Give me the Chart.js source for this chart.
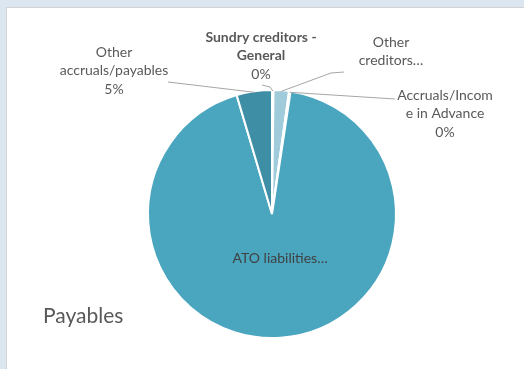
<!DOCTYPE html>
<html>
<head>
<meta charset="utf-8">
<script src="https://cdn.jsdelivr.net/npm/chart.js@4/dist/chart.umd.min.js"></script>
<style>
    html, body { margin: 0; padding: 0; }
    body { width: 524px; height: 369px; background: #dce6f0; position: relative; overflow: hidden; }
    #panel { position: absolute; left: 6px; top: 7px; right: 0; bottom: 0; background: #fff; border-left: 1px solid #d3d3d3; border-top: 1px solid #d3d3d3; }
    #graph { position: absolute; left: 0; top: 0; }
</style>
</head>
<body>
<div id="panel"></div>
<canvas id="graph" width="524" height="369"></canvas>
<script>
// データ
var categories = ['Sundry creditors - General', 'Other creditors', 'Accruals/Income in Advance', 'ATO liabilities', 'Other accruals/payables'];
var values     = [0.2, 2.0, 0.2, 93.0, 4.6];
var colors     = ['#5fb3c9', '#a0cbdb', '#e6f2f6', '#4aa5bf', '#3e8ea5'];
// 表示用ラベル（グラフ上の文字）
var labelLines = [
    ['Sundry creditors -', 'General'],
    ['Other', 'creditors…'],
    ['Accruals/Incom', 'e in Advance'],
    ['ATO liabilities…'],
    ['Other', 'accruals/payables']
];
var showPercent = [true, false, true, false, true];
var boldName    = [true, false, false, false, false];

var FONT = 'Lato, "Liberation Sans", sans-serif';

// ラベル位置（文字の中心x, 1行目のy）と引き出し線の始点
var labelLayout = [
    { x: 261, y: 37, line: [[262, 85], [270, 87]] },
    { x: 391, y: 42, line: [[344, 72], [331, 73]] },
    { x: 445, y: 95, line: [[395, 99]] },
    { x: 0,   y: 0,  line: null },
    { x: 114, y: 52, line: [[168, 82]] }
];

var pieLabels = {
    id: 'pieLabels',
    afterDraw: function(chart) {
        var ctx = chart.ctx;
        var meta = chart.getDatasetMeta(0);
        var total = 0;
        for (var i = 0; i < values.length; i++) total += values[i];

        ctx.save();
        ctx.textAlign = 'center';
        ctx.textBaseline = 'middle';

        for (var i = 0; i < meta.data.length; i++) {
            var arc = meta.data[i];
            var mid = (arc.startAngle + arc.endAngle) / 2;
            var pct = Math.round(values[i] / total * 100) + '%';
            var lay = labelLayout[i];

            if (lay.line) {
                // 引き出し線
                var ex = arc.x + Math.cos(mid) * (arc.outerRadius - 1);
                var ey = arc.y + Math.sin(mid) * (arc.outerRadius - 1);
                ctx.strokeStyle = '#a6a6a6';
                ctx.lineWidth = 1;
                ctx.beginPath();
                ctx.moveTo(lay.line[0][0], lay.line[0][1]);
                for (var k = 1; k < lay.line.length; k++) ctx.lineTo(lay.line[k][0], lay.line[k][1]);
                ctx.lineTo(ex, ey);
                ctx.stroke();

                ctx.fillStyle = '#595959';
                var y = lay.y;
                for (var j = 0; j < labelLines[i].length; j++) {
                    ctx.font = (boldName[i] ? 'bold ' : '') + '14px ' + FONT;
                    ctx.fillText(labelLines[i][j], lay.x, y);
                    y += 18.5;
                }
                if (showPercent[i]) {
                    ctx.font = '14px ' + FONT;
                    ctx.fillText(pct, lay.x, y);
                }
            } else {
                // 扇形の内側のラベル
                var r = arc.outerRadius * 0.36;
                ctx.fillStyle = '#404040';
                ctx.font = '14px ' + FONT;
                ctx.fillText(labelLines[i][0], arc.x + Math.cos(mid) * r + 5, arc.y + Math.sin(mid) * r);
            }
        }

        // タイトル
        ctx.textAlign = 'left';
        ctx.fillStyle = '#595959';
        ctx.font = '21px ' + FONT;
        ctx.fillText('Payables', 43, 316);
        ctx.restore();
    }
};

new Chart(document.getElementById('graph').getContext('2d'), {
    type: 'pie',
    data: {
        labels: categories,
        datasets: [{
            data: values,
            backgroundColor: colors,
            borderColor: '#ffffff',
            borderWidth: 2
        }]
    },
    options: {
        responsive: false,
        animation: false,
        radius: 124,
        layout: { padding: { left: 20, right: 0, top: 59, bottom: 0 } },
        plugins: {
            legend: { display: false },
            tooltip: { enabled: false }
        }
    },
    plugins: [pieLabels]
});
</script>
</body>
</html>
